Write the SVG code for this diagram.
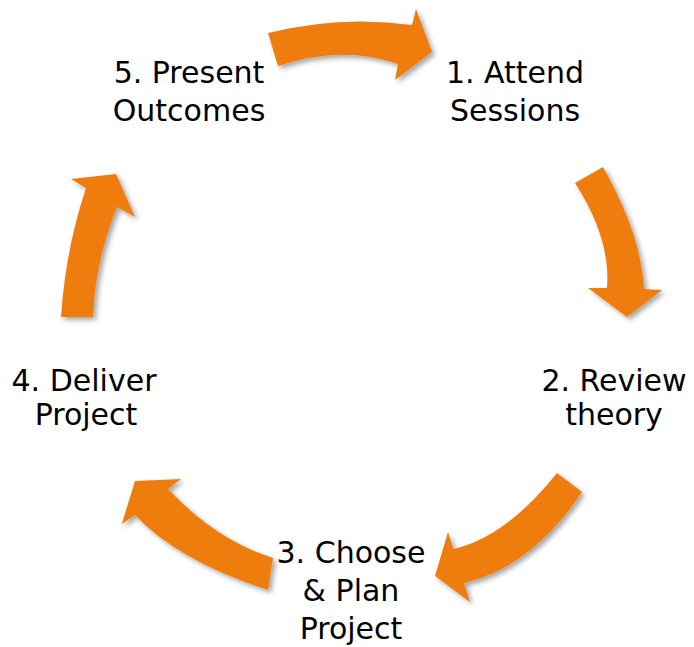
<svg xmlns="http://www.w3.org/2000/svg" width="694" height="647" viewBox="0 0 694 647">
  <defs>
    <filter id="shadow" x="-20%" y="-20%" width="140%" height="140%">
      <feDropShadow dx="3" dy="3" stdDeviation="2.5" flood-color="#000" flood-opacity="0.35"/>
    </filter>
    <style>
      .arrow { fill: #EF7D11; filter: url(#shadow); }
      .label { font-family: "DejaVu Sans", "Liberation Sans", sans-serif; font-size: 30px; fill: #000; text-anchor: middle; }
    </style>
  </defs>
  <rect width="694" height="647" fill="#fff"/>

  <!-- curved cycle arrows -->
  <g id="connectors">
    <path id="arrow-5-1" class="arrow" d="M268,33 Q340,15 412,25 L416,9 L432,52 L395,80 L398,64 Q342,44.5 278,66 Z"/>
    <path id="arrow-1-2" class="arrow" d="M603,167 Q641.5,235.4 644,289 L662,290 L627,317 L588,288 L607,288 Q611,238.5 575,183 Z"/>
    <path id="arrow-2-3" class="arrow" d="M582,492 Q532.4,566.6 464,583 L470,602 L435,576 L448,532 L453.5,549 Q505.1,537.8 557,473 Z"/>
    <path id="arrow-3-4" class="arrow" d="M268,590 Q177.8,560.7 135,515 L121.7,524.3 L135,481 L181,479 L168,489 Q215.3,539.6 273,558 Z"/>
    <path id="arrow-4-5" class="arrow" d="M61,317 Q65.5,249.5 86,188 L71,179 L116,174 L135,217 L117,207 Q95,262 93,317 Z"/>
  </g>

  <g id="node-1">
    <text class="label" x="515" y="83">1. Attend</text>
    <text class="label" x="515" y="121">Sessions</text>
  </g>
  <g id="node-2">
    <text class="label" x="614" y="391">2. Review</text>
    <text class="label" x="614" y="425">theory</text>
  </g>
  <g id="node-3">
    <text class="label" x="351" y="563">3. Choose</text>
    <text class="label" x="351" y="601">&amp; Plan</text>
    <text class="label" x="351" y="639">Project</text>
  </g>
  <g id="node-4">
    <text class="label" x="84" y="391">4. Deliver</text>
    <text class="label" x="86" y="425">Project</text>
  </g>
  <g id="node-5">
    <text class="label" x="189" y="83">5. Present</text>
    <text class="label" x="189" y="121">Outcomes</text>
  </g>
</svg>
